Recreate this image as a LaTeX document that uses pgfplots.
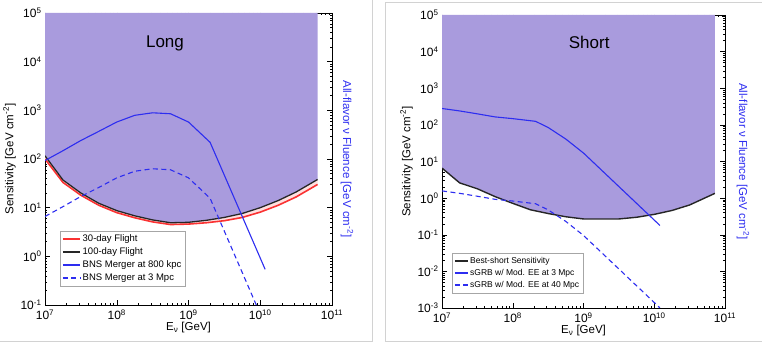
\documentclass[border=0pt]{standalone}
\usepackage{pgfplots}
\pgfplotsset{compat=1.18}
\usepackage{fontspec}
\setmainfont{Liberation Sans}
\definecolor{fillc}{RGB}{169,155,221}
\definecolor{bline}{RGB}{45,45,240}
\definecolor{rline}{RGB}{250,50,50}

\pgfplotsset{
  panel/.style={
    scale only axis,
    xmin=1e7, xmax=1e11,
    xtick={1e7,1e8,1e9,1e10,1e11},
    xticklabels={10\textsuperscript{7},10\textsuperscript{8},10\textsuperscript{9},10\textsuperscript{10},10\textsuperscript{11}},
    tick label style={font=\fontsize{12}{13}\selectfont},
    xticklabel style={yshift=-1pt},
    label style={font=\fontsize{11.5}{13}\selectfont},
    major tick length=5pt, minor tick length=2.5pt,
    tick style={black, thin},
    axis line style={black, thin},
    xlabel={E\textsubscript{ν} [GeV]},
    ylabel={Sensitivity [GeV cm\textsuperscript{-2}]},
    xlabel style={yshift=4pt},
    ylabel style={yshift=-2pt},
    legend cell align=left,
    legend style={draw=gray!70, fill=white, inner sep=2pt},
  }
}

\begin{document}
\begin{tikzpicture}
\useasboundingbox (0,0) rectangle (762pt,345pt);
% panel frames of the screenshot
\draw[gray!35, line width=0.8pt] (0,4pt) -- (372pt,4pt) -- (372pt,345pt);
\draw[gray!35, line width=0.8pt] (385pt,4pt) -- (385pt,343pt) -- (762pt,343pt);
\draw[gray!35, line width=0.8pt] (385pt,4pt) -- (762pt,4pt);

% ---------------- Long ----------------
\begin{loglogaxis}[panel, name=L,
  at={(45pt,40pt)}, anchor=south west,
  width=287pt, height=292pt,
  ymin=1e-1, ymax=1e5,
  ytick={1e-1,1e0,1e1,1e2,1e3,1e4,1e5},
  yticklabels={10\textsuperscript{-1},10\textsuperscript{0},10\textsuperscript{1},10\textsuperscript{2},10\textsuperscript{3},10\textsuperscript{4},10\textsuperscript{5}},
  legend image code/.code={\draw[#1, line width=1.5pt] (0cm,0cm) -- (0.6cm,0cm);},
  legend style={at={(rel axis cs:0.052,0.065)}, anchor=south west,
    font=\fontsize{9.5}{10}\selectfont, row sep=0.6pt},
]
\addplot[fill=fillc, draw=none, forget plot] coordinates {
 (1e7,1e5) (1e7,116) (1.78e7,37) (3.16e7,20) (5.62e7,12.3) (1e8,8.7) (1.78e8,6.8)
 (3.16e8,5.6) (5.62e8,4.9) (1e9,5.0) (1.78e9,5.5) (3.16e9,6.3) (5.62e9,7.6)
 (1e10,10) (1.78e10,14) (3.16e10,21) (6.3e10,38) (6.3e10,1e5)} --cycle;
\addplot[fill=red!12, draw=none, forget plot] coordinates {
 (1e7,116) (1.78e7,37) (3.16e7,20) (5.62e7,12.3) (1e8,8.7) (1.78e8,6.8)
 (3.16e8,5.6) (5.62e8,4.9) (1e9,5.0) (1.78e9,5.5) (3.16e9,6.3) (5.62e9,7.6)
 (1e10,10) (1.78e10,14) (3.16e10,21) (6.3e10,38)
 (6.3e10,30) (3.16e10,16.6) (1.78e10,11.2) (1e10,8.1) (5.62e9,6.3) (3.16e9,5.4)
 (1.78e9,4.9) (1e9,4.6) (5.62e8,4.5) (3.16e8,5.1) (1.78e8,6.2) (1e8,7.9)
 (5.62e7,11.2) (3.16e7,18) (1.78e7,33) (1e7,100)} --cycle;
\addplot[rline, line width=1.6pt] coordinates {
 (1e7,100) (1.78e7,33) (3.16e7,18) (5.62e7,11.2) (1e8,7.9) (1.78e8,6.2)
 (3.16e8,5.1) (5.62e8,4.5) (1e9,4.6) (1.78e9,4.9) (3.16e9,5.4) (5.62e9,6.3)
 (1e10,8.1) (1.78e10,11.2) (3.16e10,16.6) (6.3e10,30)};
\addlegendentry{30-day Flight}
\addplot[black!85, line width=1.3pt] coordinates {
 (1e7,116) (1.78e7,37) (3.16e7,20) (5.62e7,12.3) (1e8,8.7) (1.78e8,6.8)
 (3.16e8,5.6) (5.62e8,4.9) (1e9,5.0) (1.78e9,5.5) (3.16e9,6.3) (5.62e9,7.6)
 (1e10,10) (1.78e10,14) (3.16e10,21) (6.3e10,38)};
\addlegendentry{100-day Flight}
\addplot[bline, line width=1.1pt] coordinates {
 (1e7,93) (1.78e7,148) (3.16e7,240) (5.62e7,370) (1e8,575) (1.78e8,790)
 (3.16e8,890) (5.62e8,850) (1e9,575) (2e9,220) (1.17e10,0.54)};
\addlegendentry{BNS Merger at 800 kpc}
\addplot[bline, line width=1.1pt, dash pattern=on 5pt off 3.5pt] coordinates {
 (1e7,6.6) (1.78e7,10.5) (3.16e7,17) (5.62e7,26) (1e8,41) (1.78e8,56)
 (3.16e8,63) (5.62e8,60) (1e9,41) (2e9,15.6) (1.17e10,0.038)};
\addlegendentry{BNS Merger at 3 Mpc}
\node[font=\fontsize{17}{20}\selectfont] at (rel axis cs:0.418,0.897) {Long};
\end{loglogaxis}
\node[bline, rotate=-90, font=\fontsize{11.5}{13}\selectfont] at ([xshift=15pt]L.east)
  {All-flavor ν Fluence [GeV cm\textsuperscript{-2}]};

% ---------------- Short ----------------
\begin{loglogaxis}[panel, name=R,
  at={(442pt,37pt)}, anchor=south west,
  width=283pt, height=293pt,
  ymin=1e-3, ymax=1e5,
  ytick={1e-3,1e-2,1e-1,1e0,1e1,1e2,1e3,1e4,1e5},
  yticklabels={10\textsuperscript{-3},10\textsuperscript{-2},10\textsuperscript{-1},10\textsuperscript{0},10\textsuperscript{1},10\textsuperscript{2},10\textsuperscript{3},10\textsuperscript{4},10\textsuperscript{5}},
  legend image code/.code={\draw[#1, line width=1.3pt] (0cm,0cm) -- (0.45cm,0cm);},
  legend style={at={(rel axis cs:0.035,0.051)}, anchor=south west,
    font=\fontsize{8.5}{9.5}\selectfont, row sep=0.3pt},
]
\addplot[fill=fillc, draw=none, forget plot] coordinates {
 (1e7,1e5) (1e7,6.6) (1.78e7,2.6) (3.16e7,1.8) (5.62e7,1.1) (1e8,0.72) (1.78e8,0.48)
 (3.16e8,0.38) (5.62e8,0.31) (1e9,0.27) (1.78e9,0.27) (3.16e9,0.27) (5.62e9,0.30)
 (1e10,0.36) (1.78e10,0.46) (3.16e10,0.65) (7.2e10,1.35) (7.2e10,1e5)} --cycle;
\addplot[black!85, line width=1.4pt] coordinates {
 (1e7,6.6) (1.78e7,2.6) (3.16e7,1.8) (5.62e7,1.1) (1e8,0.72) (1.78e8,0.48)
 (3.16e8,0.38) (5.62e8,0.31) (1e9,0.27) (1.78e9,0.27) (3.16e9,0.27) (5.62e9,0.30)
 (1e10,0.36) (1.78e10,0.46) (3.16e10,0.65) (7.2e10,1.35)};
\addlegendentry{Best-short Sensitivity}
\addplot[bline, line width=1.1pt] coordinates {
 (1e7,280) (1.78e7,240) (3.16e7,200) (5.62e7,165) (1e8,148) (2.1e8,125)
 (3.16e8,85) (5.62e8,41) (1e9,17) (1.2e10,0.18)};
\addlegendentry{sGRB w/ Mod. EE at 3 Mpc}
\addplot[bline, line width=1.1pt, dash pattern=on 5pt off 3.5pt] coordinates {
 (1e7,1.575) (1.78e7,1.35) (3.16e7,1.125) (5.62e7,0.928) (1e8,0.833) (2.1e8,0.703)
 (3.16e8,0.478) (5.62e8,0.231) (1e9,0.0956) (1.2e10,0.00101)};
\addlegendentry{sGRB w/ Mod. EE at 40 Mpc}
\node[font=\fontsize{17}{20}\selectfont] at (rel axis cs:0.52,0.908) {Short};
\end{loglogaxis}
\node[bline, rotate=-90, font=\fontsize{11.5}{13}\selectfont] at ([xshift=18pt]R.east)
  {All-flavor ν Fluence [GeV cm\textsuperscript{-2}]};
\end{tikzpicture}
\end{document}
